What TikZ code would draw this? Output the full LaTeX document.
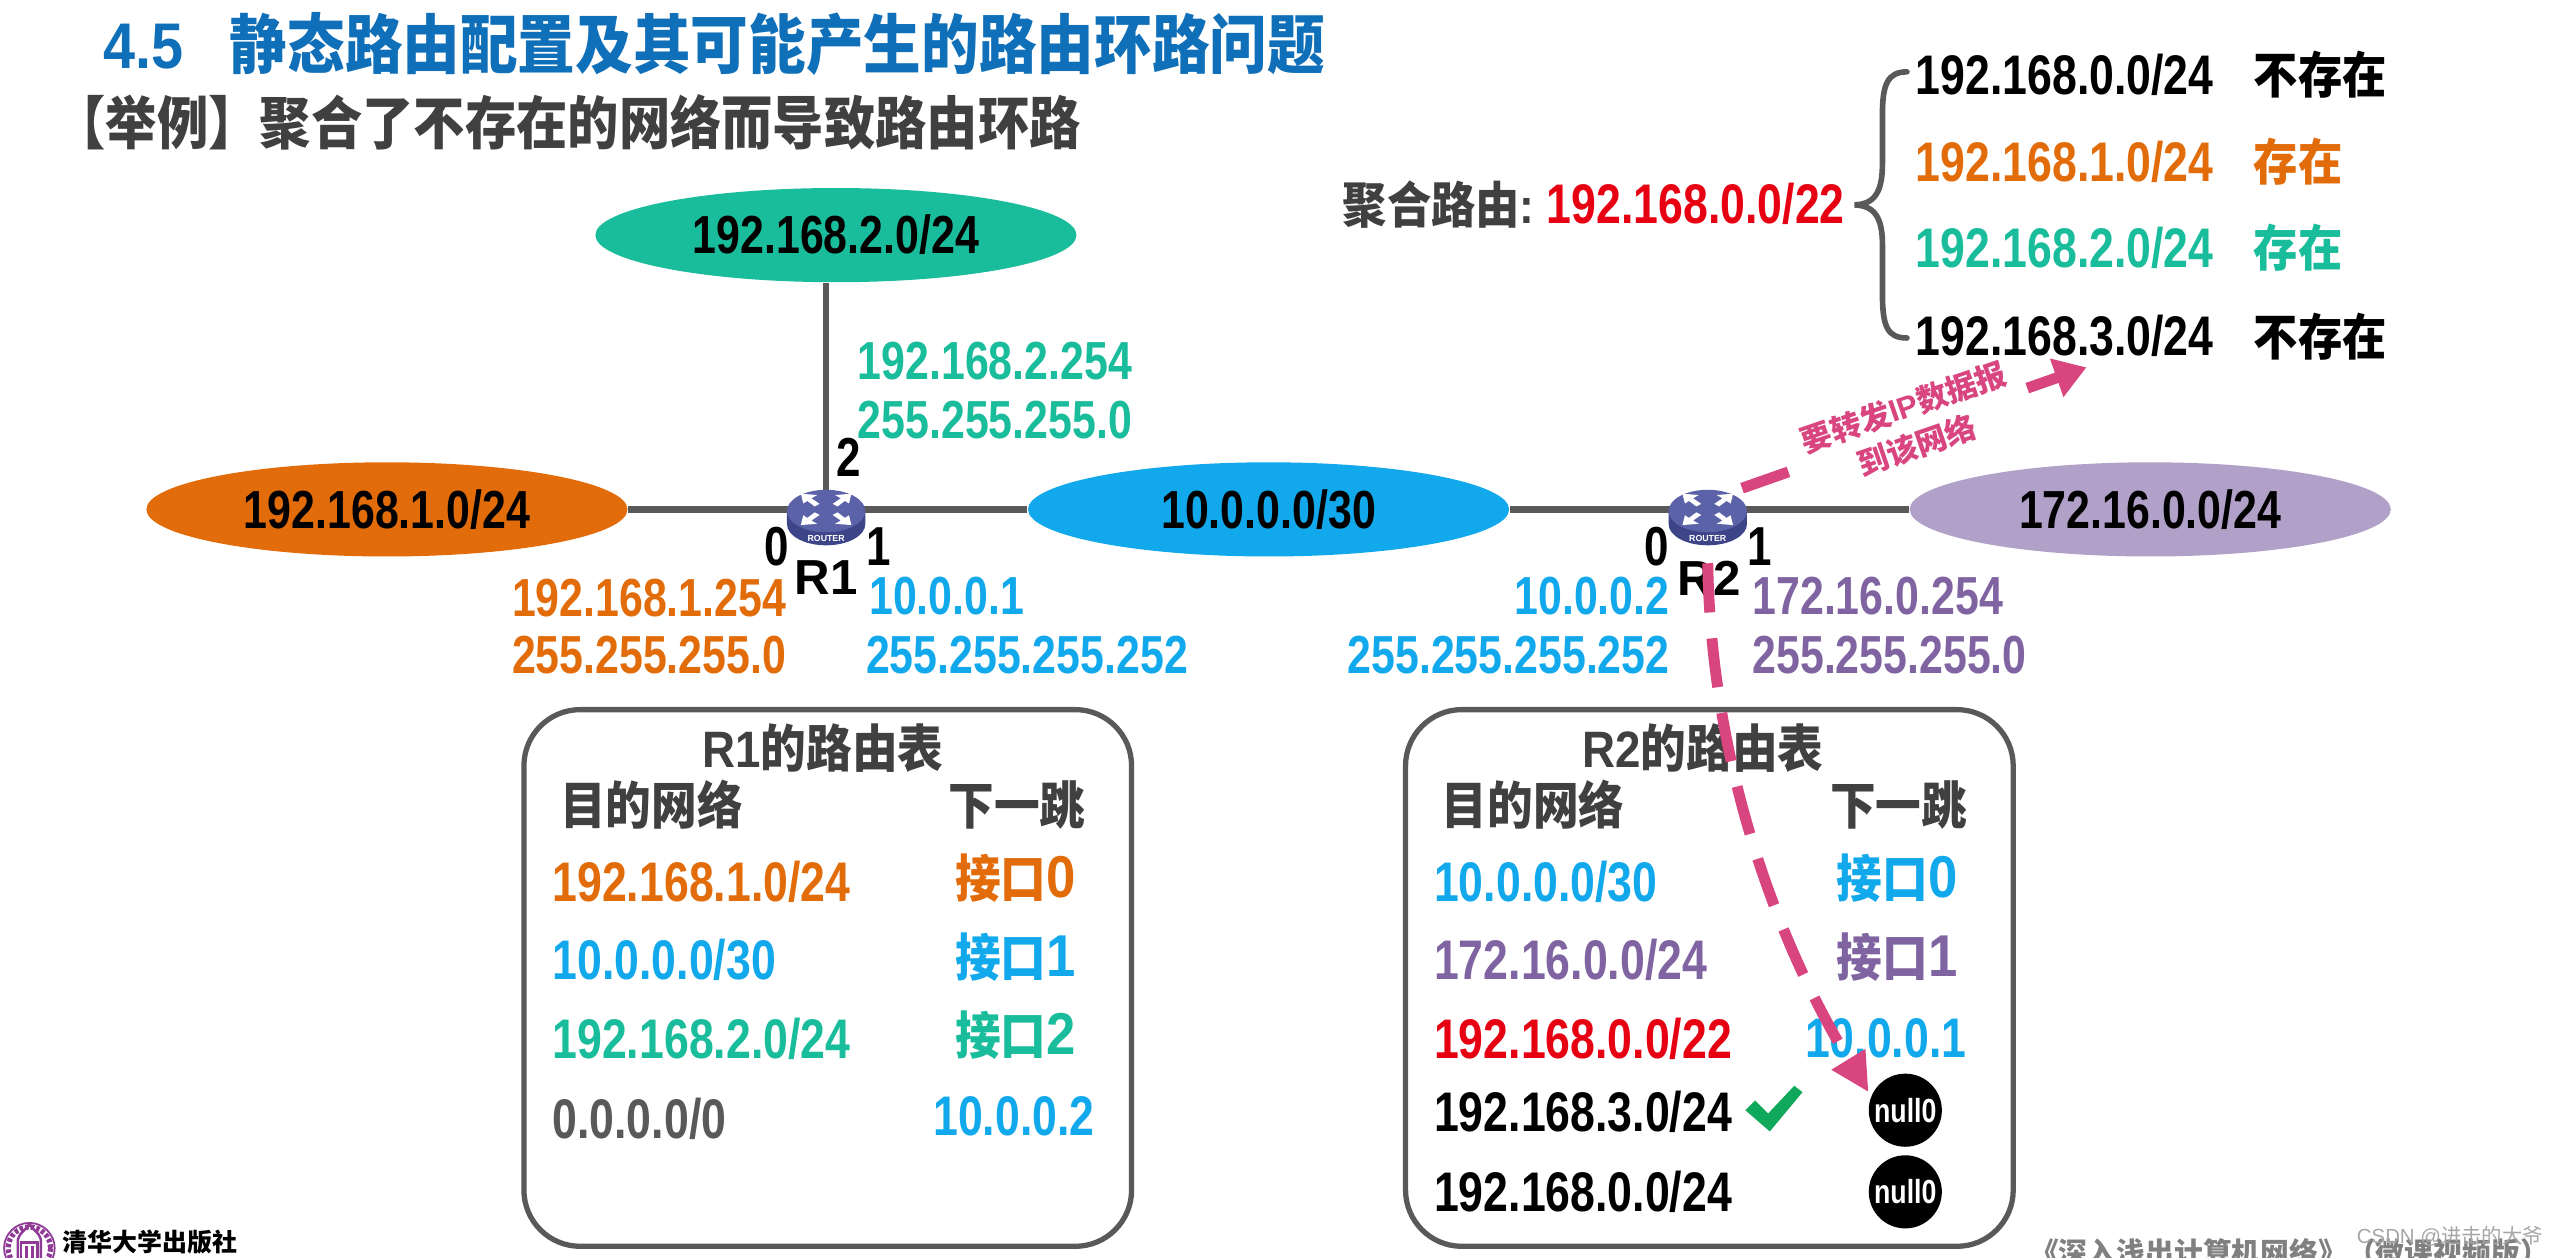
\documentclass[tikz,border=0pt]{standalone}
\usepackage{graphicx}
\usepackage{fontspec}
\setmainfont{Liberation Sans}
\newfontfamily\cjk{Noto Sans CJK SC}
\usetikzlibrary{arrows.meta,shapes.geometric}
\newcommand\zh[1]{{\cjk #1}}
\newcommand\St[1]{\scalebox{1}[1.25]{#1}}
\newcommand\Sz[1]{\scalebox{1}[1.12]{#1}}
\definecolor{ctitle}{HTML}{0F6FB8}
\definecolor{cdark}{HTML}{404040}
\definecolor{cline}{HTML}{595959}
\definecolor{cteal}{HTML}{19BC9B}
\definecolor{corange}{HTML}{E36C0A}
\definecolor{cblue}{HTML}{12A8EC}
\definecolor{cpurple}{HTML}{8064A2}
\definecolor{cpurplef}{HTML}{B1A0C7}
\definecolor{cred}{HTML}{E60012}
\definecolor{cpink}{HTML}{D9457F}
\definecolor{cgreen}{HTML}{10A85A}
\definecolor{clogo}{HTML}{8E3A96}
\definecolor{crtop}{HTML}{5B62A8}
\definecolor{crbody}{HTML}{3E4488}
\tikzset{
 x=0.0163265cm,y=-0.0163265cm,
 net/.style={ellipse,minimum width=136.9pt,minimum height=26.8pt,inner sep=0,font=\bfseries\fontsize{12.2}{14}\selectfont},
 link/.style={draw=cline,line width=1.9pt},
 txt/.style={inner sep=0,font=\bfseries\fontsize{12.2}{14}\selectfont},
 tab/.style={inner sep=0,font=\bfseries\fontsize{12.7}{14}\selectfont},
 zhh/.style={inner sep=0,font=\bfseries\fontsize{13}{15}\selectfont},
 zhe/.style={inner sep=0,font=\bfseries\fontsize{12.6}{15}\selectfont},
 port/.style={inner sep=0,font=\bfseries\fontsize{12.5}{14}\selectfont,text=black},
 rname/.style={inner sep=0,font=\bfseries\fontsize{14}{15}\selectfont,text=black},
 box/.style={draw=cline,line width=1.5pt,rounded corners=16pt,fill=white},
 nul/.style={circle,fill=black,text=white,minimum size=20.8pt,inner sep=0,font=\bfseries\fontsize{7.6}{9}\selectfont},
 pinkline/.style={draw=cpink,line width=3.1pt},
 routerpic/.pic={
  \fill[crbody] (-24,1) -- (-24,9) arc[start angle=180,end angle=0,x radius=24,y radius=13] -- (24,1) -- cycle;
  \fill[crtop] (0,1) ellipse[x radius=24,y radius=13];
  \foreach \sx/\sy in {1/1,1/-1,-1/1,-1/-1}{
   \fill[white] (\sx*15.5,\sy*9.6) -- (\sx*5.5,\sy*8.8) -- (\sx*9,\sy*6.8) -- (\sx*4,\sy*3.4) -- (\sx*7,\sy*1.8) -- (\sx*11.5,\sy*5.2) -- (\sx*14,\sy*3.6) -- cycle;
  }
  \node[inner sep=0,text=white,font=\bfseries\fontsize{2.5}{3}\selectfont] at (0,18) {ROUTER};
 }
}
\begin{document}
\begin{tikzpicture}
\useasboundingbox (0,0) rectangle (1568,770);
\clip (0,0) rectangle (1568,770);
\fill[white] (0,0) rectangle (1568,770);

% title
\node[inner sep=0,anchor=west,text=ctitle,font=\bfseries\fontsize{16.4}{18}\selectfont] (title) at (63,27) {\Sz{4.5\hspace{0.8em}\zh{静态路由配置及其可能产生的路由环路问题}}};
\node[inner sep=0,anchor=west,text=cdark,font=\bfseries\fontsize{14.6}{18}\selectfont] (sub) at (33,75) {\Sz{\zh{【举例】聚合了不存在的网络而导致路由环路}}};

% networks
\node[net,fill=cteal] (n2) at (512,144) {\St{192.168.2.0/24}};
\node[net,fill=corange] (n1) at (237,312) {\St{192.168.1.0/24}};
\node[net,fill=cblue] (n10) at (777,312) {\St{10.0.0.0/30}};
\node[net,fill=cpurplef] (n172) at (1317,312) {\St{172.16.0.0/24}};

% routers
\coordinate (R1) at (506,312);
\coordinate (R2) at (1046,312);
\draw[link] (R1 |- n2.south) -- (R1);
\draw[link] (n1) -- (R1);
\draw[link] (R1) -- (n10);
\draw[link] (n10) -- (R2);
\draw[link] (R2) -- (n172);
\pic at (R1) {routerpic};
\pic at (R2) {routerpic};

% port labels
\node[port] (p12) at (520,280) {\St{2}};
\node[port] (p10) at (476,335) {\St{0}};
\node[port] (p11) at (538,335) {\St{1}};
\node[rname] (lr1) at (506,354) {R1};
\node[port] (p20) at (1015,335) {\St{0}};
\node[port] (p21) at (1078,335) {\St{1}};
\node[rname] (lr2) at (1047,354) {R2};

% addresses
\node[txt,anchor=west,text=cteal] (a1) at (525,221) {\St{192.168.2.254}};
\node[txt,anchor=west,text=cteal] (a2) at (525,257) {\St{255.255.255.0}};
\node[txt,anchor=east,text=corange] (a3) at (482,366) {\St{192.168.1.254}};
\node[txt,anchor=east,text=corange] (a4) at (482,401) {\St{255.255.255.0}};
\node[txt,anchor=west,text=cblue] (a5) at (532,365) {\St{10.0.0.1}};
\node[txt,anchor=west,text=cblue] (a6) at (530,401) {\St{255.255.255.252}};
\node[txt,anchor=east,text=cblue] (a7) at (1023,365) {\St{10.0.0.2}};
\node[txt,anchor=east,text=cblue] (a8) at (1023,401) {\St{255.255.255.252}};
\node[txt,anchor=west,text=cpurple] (a9) at (1073,365) {\St{172.16.0.254}};
\node[txt,anchor=west,text=cpurple] (a10) at (1073,401) {\St{255.255.255.0}};

% aggregate
\node[zhe,anchor=west,text=cdark] (ag) at (822,125) {\Sz{\zh{聚合路由}:}};
\node[tab,anchor=west,text=cred] (agv) at (947,125) {\St{192.168.0.0/22}};
\coordinate (bt) at (1168,44);
\coordinate (bm) at (1136,125.5);
\coordinate (bb) at (1168,207);
\draw[cline,line width=1.6pt,line cap=round] (bt) .. controls (1156,44) and (1153,52) .. (1153,70) -- (1153,100) .. controls (1153,118) and (1148,125) .. (bm) .. controls (1148,126) and (1153,133) .. (1153,150) -- (1153,180) .. controls (1153,200) and (1156,207) .. (bb);
\node[tab,anchor=west] (s0) at (1173,46) {\St{192.168.0.0/24}};
\node[tab,anchor=west,text=corange] (s1) at (1173,99) {\St{192.168.1.0/24}};
\node[tab,anchor=west,text=cteal] (s2) at (1173,152) {\St{192.168.2.0/24}};
\node[tab,anchor=west] (s3) at (1173,206) {\St{192.168.3.0/24}};
\node[zhe,anchor=west] (e0) at (1380,46) {\Sz{\zh{不存在}}};
\node[zhe,anchor=west,text=corange] (e1) at (1380,99) {\Sz{\zh{存在}}};
\node[zhe,anchor=west,text=cteal] (e2) at (1380,152) {\Sz{\zh{存在}}};
\node[zhe,anchor=west] (e3) at (1380,206) {\Sz{\zh{不存在}}};

% R1 table
\node[box,minimum width=172.9pt,minimum height=152.7pt] (t1) at (507,599) {};
\node[zhh,text=cdark] (t1h) at (504,458) {\Sz{R1\zh{的路由表}}};
\node[zhh,text=cdark] (t1a) at (399,493) {\Sz{\zh{目的网络}}};
\node[zhh,text=cdark] (t1b) at (623,493) {\Sz{\zh{下一跳}}};
\node[tab,anchor=west,text=corange] (r11) at (338,540) {\St{192.168.1.0/24}};
\node[tab,anchor=west,text=cblue] (r12) at (338,588) {\St{10.0.0.0/30}};
\node[tab,anchor=west,text=cteal] (r13) at (338,636) {\St{192.168.2.0/24}};
\node[tab,anchor=west,text=cline] (r14) at (338,685) {\St{0.0.0.0/0}};
\node[zhh,text=corange] (h11) at (622,538) {\Sz{\zh{接口}{\fontsize{15}{15}\selectfont 0}}};
\node[zhh,text=cblue] (h12) at (622,586) {\Sz{\zh{接口}{\fontsize{15}{15}\selectfont 1}}};
\node[zhh,text=cteal] (h13) at (622,634) {\Sz{\zh{接口}{\fontsize{15}{15}\selectfont 2}}};
\node[tab,text=cblue] (h14) at (621,684) {\St{10.0.0.2}};

% R2 table
\node[box,minimum width=172.9pt,minimum height=152.7pt] (t2) at (1047,599) {};
\node[zhh,text=cdark] (t2h) at (1043,458) {\Sz{R2\zh{的路由表}}};
\node[zhh,text=cdark] (t2a) at (939,493) {\Sz{\zh{目的网络}}};
\node[zhh,text=cdark] (t2b) at (1163,493) {\Sz{\zh{下一跳}}};
\node[tab,anchor=west,text=cblue] (r21) at (878,540) {\St{10.0.0.0/30}};
\node[tab,anchor=west,text=cpurple] (r22) at (878,588) {\St{172.16.0.0/24}};
\node[tab,anchor=west,text=cred] (r23) at (878,636) {\St{192.168.0.0/22}};
\node[tab,anchor=west] (r24) at (878,681) {\St{192.168.3.0/24}};
\node[tab,anchor=west] (r25) at (878,730) {\St{192.168.0.0/24}};
\node[zhh,text=cblue] (h21) at (1162,538) {\Sz{\zh{接口}{\fontsize{15}{15}\selectfont 0}}};
\node[zhh,text=cpurple] (h22) at (1162,586) {\Sz{\zh{接口}{\fontsize{15}{15}\selectfont 1}}};
\node[tab,text=cblue] (h23) at (1155,636) {\St{10.0.0.1}};
\node[nul] (nl1) at (1167,680) {\St{null0}};
\node[nul] (nl2) at (1167,730) {\St{null0}};
\fill[cgreen] (1069,680) -- (1075,674) -- (1083,682) -- (1099,665) -- (1104,669) -- (1084,693) -- cycle;

% pink arrows
\coordinate (f1) at (1067,299);
\coordinate (f2) at (1278,225);
\coordinate (f3) at (1046,345);
\coordinate (f4) at (1144.5,669);
\draw[pinkline,-{Triangle[length=9pt,width=11pt]},dash pattern=on 14pt off 72pt on 40pt] (f1) -- (f2);
\node[inner sep=0,rotate=19,align=center,text=cpink,font=\bfseries\fontsize{8.8}{11.5}\selectfont] (ft) at (1170,261) {\zh{要转发}IP\zh{数据报}\\\zh{到该网络}};
\draw[pinkline,-{Triangle[length=11pt,width=10.5pt]},dash pattern=on 14pt off 7.4pt] (f3) .. controls (1048,470) and (1090,580) .. (f4);

% footer
\draw[clogo,line width=0.5pt] (18,764.5) circle[radius=15.5];
\draw[clogo,line width=1.5pt,dash pattern=on 1pt off 0.6pt] (18,764.5) circle[radius=13];
\fill[white] (18,764.5) circle[radius=10.5];
\draw[clogo,line width=0.7pt] (11,771) -- (11,759) .. controls (12,755) and (16,753) .. (18,750) .. controls (20,753) and (24,755) .. (25,759) -- (25,771);
\draw[clogo,line width=0.7pt] (13,771) -- (13,761) -- (23,761) -- (23,771);
\draw[clogo,line width=0.9pt] (16,763) -- (16,771) (20,763) -- (20,771);
\node[inner sep=0,anchor=west,font=\bfseries\fontsize{7.1}{9}\selectfont] (pub) at (38,761) {\zh{清华大学出版社}};
\node[inner sep=0,anchor=west,text=gray,font=\bfseries\fontsize{8.2}{9}\selectfont] (book) at (1243,767) {\zh{《深入浅出计算机网络》（微课视频版）}};
\node[inner sep=0,anchor=east,text=gray!70,font=\fontsize{5.8}{7}\selectfont] (wm) at (1558,757) {CSDN @\zh{进击的大爷}};
\end{tikzpicture}
\end{document}
